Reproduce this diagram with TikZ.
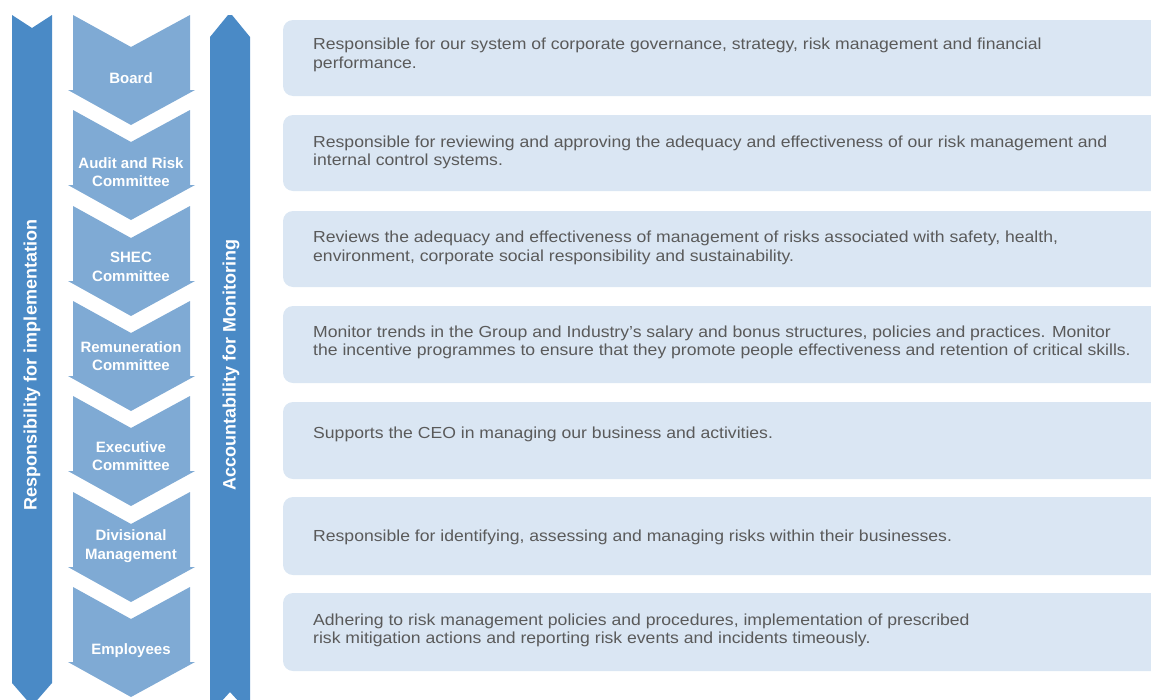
\documentclass[tikz,border=0pt]{standalone}
\usepackage{fontspec}
\setmainfont{Liberation Sans}
\newfontfamily\descfont[FakeStretch=1.1]{Liberation Sans}
\definecolor{barblue}{HTML}{4A8AC6}
\definecolor{chevblue}{HTML}{7FAAD4}
\definecolor{panelblue}{HTML}{DAE6F3}
\definecolor{textgrey}{HTML}{5A5A5A}
\tikzset{
    bar/.style={fill=barblue},
    chev/.style={fill=chevblue},
    panel/.style={fill=panelblue, rounded corners=10pt},
    lbl/.style={text=white, font={\fontsize{15}{18.5}\selectfont\bfseries}, align=center, inner sep=0pt},
    barlbl/.style={text=white, font={\fontsize{18}{20}\selectfont\bfseries}, rotate=90, inner sep=0pt},
    desc/.style={text=textgrey, font={\descfont\fontsize{16}{18.5}\selectfont}, align=left, anchor=west, inner sep=0pt}
}
\begin{document}
\begin{tikzpicture}[x=1pt, y=-1pt]
    \useasboundingbox (0,0) rectangle (1151,699);

%bars
    \fill[bar] (12,15) -- (32,28) -- (52,15) -- (52,683) -- (32,706) -- (12,683) -- cycle;
    \node[barlbl] (impl) at (32,365) {Responsibility for implementation};

    \fill[bar] (210,37) -- (228,15) -- (232,15) -- (250,37) -- (250,714) -- (230,692) -- (210,714) -- cycle;
    \node[barlbl] (mon) at (231,365) {Accountability for Monitoring};

%chevrons
    \fill[chev] (73,15) -- (131,47) -- (190,15) -- (190,90) -- (195,90) -- (131,125) -- (68,90) -- (73,90) -- cycle;
    \node[lbl] (board) at (131,78) {Board};

    \fill[chev] (73,110) -- (131,142) -- (190,110) -- (190,185) -- (195,185) -- (131,220) -- (68,185) -- (73,185) -- cycle;
    \node[lbl] (audit) at (131,172) {Audit and Risk\\Committee};

    \fill[chev] (73,206) -- (131,238) -- (190,206) -- (190,281) -- (195,281) -- (131,316) -- (68,281) -- (73,281) -- cycle;
    \node[lbl] (shec) at (131,267) {SHEC\\Committee};

    \fill[chev] (73,301) -- (131,333) -- (190,301) -- (190,376) -- (195,376) -- (131,411) -- (68,376) -- (73,376) -- cycle;
    \node[lbl] (remun) at (131,356) {Remuneration\\Committee};

    \fill[chev] (73,396) -- (131,428) -- (190,396) -- (190,471) -- (195,471) -- (131,506) -- (68,471) -- (73,471) -- cycle;
    \node[lbl] (exco) at (131,456) {Executive\\Committee};

    \fill[chev] (73,492) -- (131,524) -- (190,492) -- (190,567) -- (195,567) -- (131,602) -- (68,567) -- (73,567) -- cycle;
    \node[lbl] (divmgmt) at (131,546) {Divisional\\Management};

    \fill[chev] (73,587) -- (131,619) -- (190,587) -- (190,662) -- (195,662) -- (131,697) -- (68,662) -- (73,662) -- cycle;
    \node[lbl] (employees) at (131,651) {Employees};

%panels
    \fill[panel] (283,20) rectangle (1175,96);
    \node[desc] (d-board) at (313,55) {Responsible for our system of corporate governance, strategy, risk management and financial\\performance.};

    \fill[panel] (283,115) rectangle (1175,191);
    \node[desc] (d-audit) at (313,152.5) {Responsible for reviewing and approving the adequacy and effectiveness of our risk management and\\internal control systems.};

    \fill[panel] (283,211) rectangle (1175,287);
    \node[desc] (d-shec) at (313,248) {Reviews the adequacy and effectiveness of management of risks associated with safety, health,\\environment, corporate social responsibility and sustainability.};

    \fill[panel] (283,306) rectangle (1175,383);
    \node[desc] (d-remun) at (313,342.5) {Monitor trends in the Group and Industry’s salary and bonus structures, policies and practices. Monitor\\the incentive programmes to ensure that they promote people effectiveness and retention of critical skills.};

    \fill[panel] (283,402) rectangle (1175,479);
    \node[desc] (d-exco) at (313,434) {Supports the CEO in managing our business and activities.};

    \fill[panel] (283,497) rectangle (1175,575);
    \node[desc] (d-divmgmt) at (313,537) {Responsible for identifying, assessing and managing risks within their businesses.};

    \fill[panel] (283,593) rectangle (1175,671);
    \node[desc] (d-employees) at (313,630.5) {Adhering to risk management policies and procedures, implementation of prescribed\\risk mitigation actions and reporting risk events and incidents timeously.};

\end{tikzpicture}
\end{document}
